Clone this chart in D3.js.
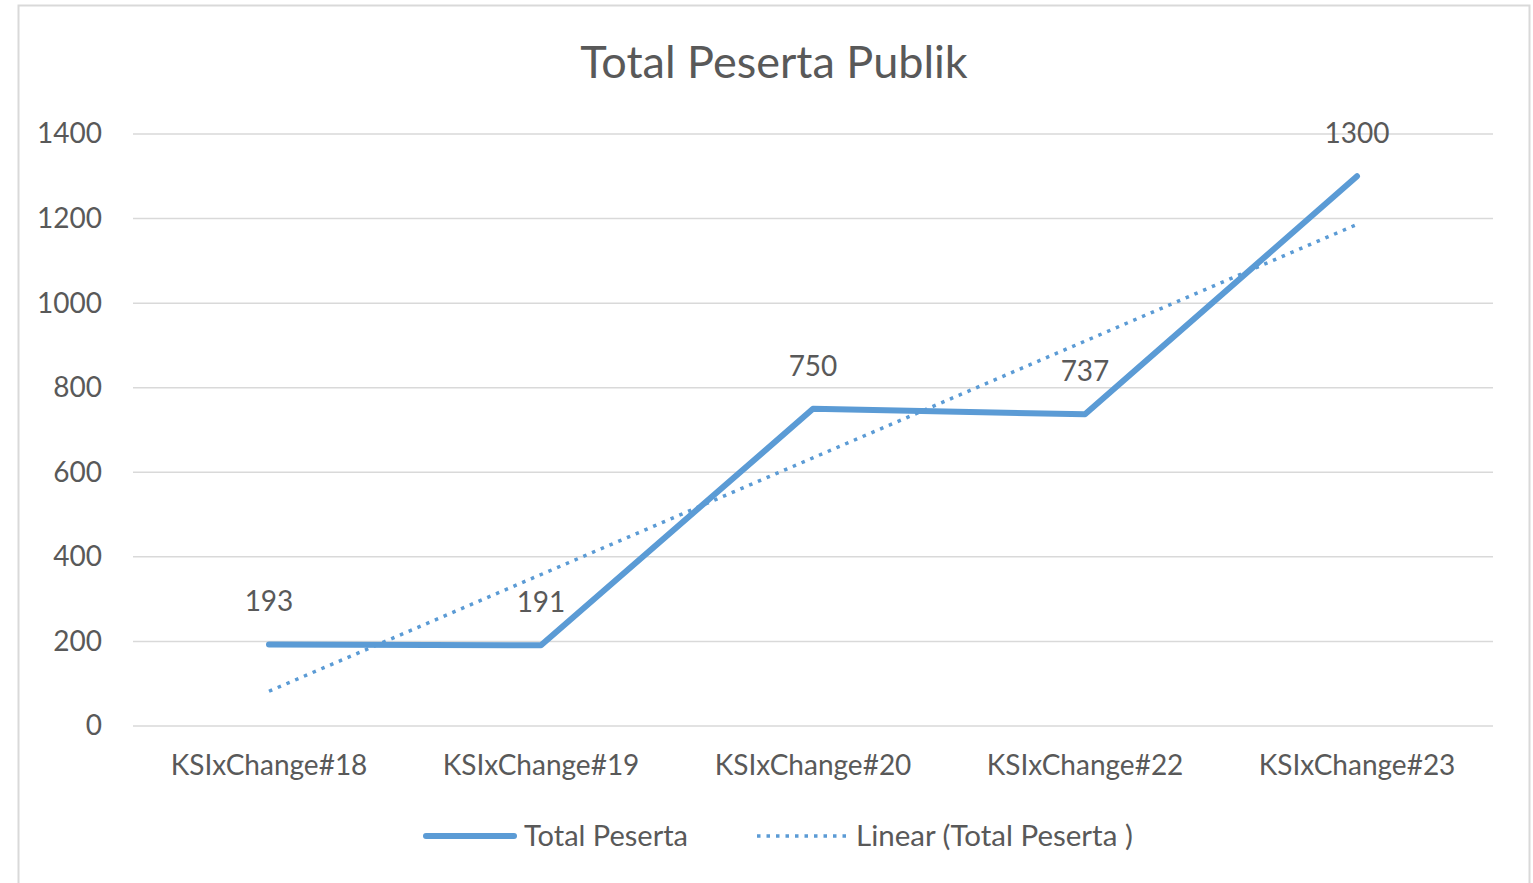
<!DOCTYPE html>
<html>
<head>
<meta charset="utf-8">
<script src="https://cdn.jsdelivr.net/npm/d3@7"></script>
<style>
  body { margin: 0; background: #fff; }
  text { font-family: Lato, "Open Sans", sans-serif; fill: #595959; }
</style>
</head>
<body>
<div class="chart"></div>
<script>
var categories = ["KSIxChange#18", "KSIxChange#19", "KSIxChange#20", "KSIxChange#22", "KSIxChange#23"];
var totalPeserta = [193, 191, 750, 737, 1300];
var yTicks = [0, 200, 400, 600, 800, 1000, 1200, 1400];

var svgWidth = 1533;
var svgHeight = 883;
var margin = { top: 134, right: 40, bottom: 157, left: 133 };
var width = 1360;
var height = 592;
var lineColor = "#5b9bd5";

var svg = d3.select(".chart")
  .append("svg")
  .attr("width", svgWidth)
  .attr("height", svgHeight);

// chart border
svg.append("rect")
  .attr("x", 18.5).attr("y", 5.5)
  .attr("width", 1511).attr("height", 900)
  .attr("fill", "none")
  .attr("stroke", "#d9d9d9")
  .attr("stroke-width", 2);

svg.append("text")
  .attr("x", 774).attr("y", 78)
  .attr("text-anchor", "middle")
  .attr("font-size", 45)
  .text("Total Peserta Publik");

var chartGroup = svg.append("g")
  .attr("transform", `translate(${margin.left}, ${margin.top})`);

var xScale = d3.scaleBand()
  .domain(categories)
  .range([0, width]);

var yScale = d3.scaleLinear()
  .domain([0, 1400])
  .range([height, 0]);

// gridlines
chartGroup.append("g")
  .selectAll("line")
  .data(yTicks)
  .enter()
  .append("line")
  .attr("x1", 0).attr("x2", width)
  .attr("y1", d => yScale(d)).attr("y2", d => yScale(d))
  .attr("stroke", "#d9d9d9")
  .attr("stroke-width", 1.5);

// y axis labels
var leftAxis = d3.axisLeft(yScale).tickValues(yTicks).tickFormat(d3.format("d")).tickSize(0).tickPadding(31);
var yAxis = chartGroup.append("g").call(leftAxis);
yAxis.select(".domain").remove();
yAxis.selectAll("text")
  .attr("font-size", 28)
  .attr("font-family", "Lato, sans-serif")
  .attr("fill", "#595959");

// x axis labels
var bottomAxis = d3.axisBottom(xScale).tickSize(0).tickPadding(29);
var xAxis = chartGroup.append("g")
  .attr("transform", `translate(0, ${height})`)
  .call(bottomAxis);
xAxis.select(".domain").remove();
xAxis.selectAll("text")
  .attr("font-size", 28)
  .attr("font-family", "Lato, sans-serif")
  .attr("fill", "#595959");

var cx = d => xScale(d) + xScale.bandwidth() / 2;

// linear trendline (least squares over category index)
var n = totalPeserta.length;
var xs = d3.range(1, n + 1);
var mx = d3.mean(xs), my = d3.mean(totalPeserta);
var slope = d3.sum(xs, (x, i) => (x - mx) * (totalPeserta[i] - my)) / d3.sum(xs, x => (x - mx) * (x - mx));
var intercept = my - slope * mx;

chartGroup.append("line")
  .attr("x1", cx(categories[0]))
  .attr("y1", yScale(intercept + slope * 1))
  .attr("x2", cx(categories[n - 1]))
  .attr("y2", yScale(intercept + slope * n))
  .attr("stroke", lineColor)
  .attr("stroke-width", 3.5)
  .attr("stroke-dasharray", "3.5,6");

// main line
var line = d3.line()
  .x((d, i) => cx(categories[i]))
  .y(d => yScale(d));

chartGroup.append("path")
  .datum(totalPeserta)
  .attr("d", line)
  .attr("fill", "none")
  .attr("stroke", lineColor)
  .attr("stroke-width", 6)
  .attr("stroke-linejoin", "round")
  .attr("stroke-linecap", "round");

// data labels
chartGroup.append("g")
  .selectAll("text")
  .data(totalPeserta)
  .enter()
  .append("text")
  .attr("x", (d, i) => cx(categories[i]))
  .attr("y", d => yScale(d) - 33)
  .attr("text-anchor", "middle")
  .attr("font-size", 28)
  .attr("fill", "#404040")
  .text(d => d);

// legend
var legend = svg.append("g");
legend.append("line")
  .attr("x1", 426).attr("x2", 514)
  .attr("y1", 836).attr("y2", 836)
  .attr("stroke", lineColor)
  .attr("stroke-width", 6)
  .attr("stroke-linecap", "round");
legend.append("text")
  .attr("x", 524).attr("y", 846)
  .attr("font-size", 29)
  .text("Total Peserta");
legend.append("line")
  .attr("x1", 757).attr("x2", 847)
  .attr("y1", 836).attr("y2", 836)
  .attr("stroke", lineColor)
  .attr("stroke-width", 3.5)
  .attr("stroke-dasharray", "3.5,6");
legend.append("text")
  .attr("x", 856).attr("y", 846)
  .attr("font-size", 29.5)
  .text("Linear (Total Peserta )");
</script>
</body>
</html>
